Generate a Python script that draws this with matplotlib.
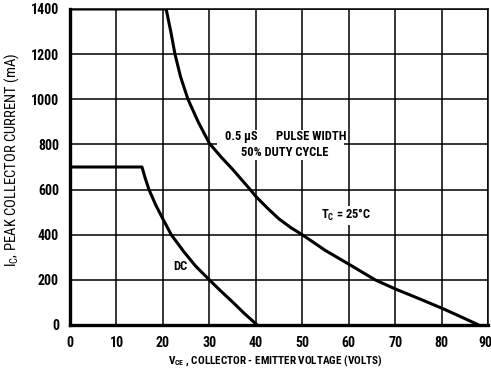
import matplotlib
matplotlib.use("Agg")
import matplotlib.pyplot as plt
import matplotlib.transforms as mtransforms
from matplotlib.patches import Rectangle

plt.rcParams['font.family'] = ['Roboto Condensed', 'Oswald', 'Archivo Narrow', 'DejaVu Sans']
plt.rcParams['mathtext.default'] = 'regular'

# Data
pulse_v = [0, 20.7, 21.2, 21.7, 22.6, 23.8, 25.4, 27.6, 30, 32.5, 35, 38.8, 40, 42.5,
           45, 47.5, 50, 55, 60, 65.7, 70, 75, 80, 84, 88]
pulse_i = [1400, 1400, 1350, 1300, 1200, 1100, 1000, 900, 805, 745, 690, 600, 570, 518,
           470, 432, 400, 330, 270, 200, 160, 118, 75, 38, 0]
dc_v = [0, 15.5, 16.2, 17, 18.5, 20, 21.8, 24.5, 27, 30, 32.5, 35, 37.5, 40.3]
dc_i = [700, 700, 650, 600, 530, 470, 400, 325, 262, 200, 150, 102, 52, 0]

x_ticks = [0, 10, 20, 30, 40, 50, 60, 70, 80, 90]
y_ticks = [0, 200, 400, 600, 800, 1000, 1200, 1400]

W = 'bold'
fig = plt.figure(figsize=(4.91, 3.75), dpi=100)
ax = fig.add_axes([70/491, 50/375, 418/491, 316/375])
ax.set_xlim(0, 90)
ax.set_ylim(0, 1400)
ax.set_xticks(x_ticks)
ax.set_yticks(y_ticks)
ax.grid(True, color='black', linewidth=1.1, zorder=1)
ax.set_axisbelow(True)
ax.tick_params(length=0, pad=8, labelsize=10)
for lab in ax.get_xticklabels() + ax.get_yticklabels():
    lab.set_fontweight(W)

# nudge the last x tick label inward so it stays within the figure
last = ax.xaxis.get_major_ticks()[-1].label1
last.set_transform(last.get_transform() +
                   mtransforms.ScaledTranslation(-3/100, 0, fig.dpi_scale_trans))

for s in ['top', 'right']:
    ax.spines[s].set_linewidth(1.1)
for s in ['left', 'bottom']:
    ax.spines[s].set_linewidth(2.4)

ax.plot(pulse_v, pulse_i, color='black', linewidth=2.2, zorder=4,
        solid_joinstyle='round', solid_capstyle='butt')
ax.plot(dc_v, dc_i, color='black', linewidth=2.2, zorder=4,
        solid_joinstyle='round', solid_capstyle='butt')

# white area behind pulse label
ax.add_patch(Rectangle((31.6, 730), 27.5, 136, facecolor='white', edgecolor='none', zorder=2))

fs = 9
ax.text(33.4, 833, '0.5 \u00b5S', fontsize=fs, fontweight=W, va='center', ha='left', zorder=5)
ax.text(44.4, 833, 'PULSE WIDTH', fontsize=fs, fontweight=W, va='center', ha='left', zorder=5)
ax.text(46.2, 763, '50% DUTY CYCLE', fontsize=fs, fontweight=W,
        va='center', ha='center', zorder=5)
ax.text(54, 487, 'T$_C$ = 25°C', fontsize=fs, fontweight=W, va='center', ha='left',
        zorder=5, bbox=dict(facecolor='white', edgecolor='none', pad=1))
ax.text(22.2, 257, 'DC', fontsize=fs, fontweight=W, va='center', ha='left', zorder=5)

ax.text(0.49, -0.111, 'V$_{CE}$ , COLLECTOR - EMITTER VOLTAGE (VOLTS)', fontsize=8,
        fontweight=W, transform=ax.transAxes, ha='center', va='center')
ax.text(-0.139, 0.522, 'I$_C$, PEAK COLLECTOR CURRENT (mA)', fontsize=10.5,
        fontweight='normal', transform=ax.transAxes, ha='center', va='center',
        rotation=90)

fig.savefig('out.png', dpi=100)
